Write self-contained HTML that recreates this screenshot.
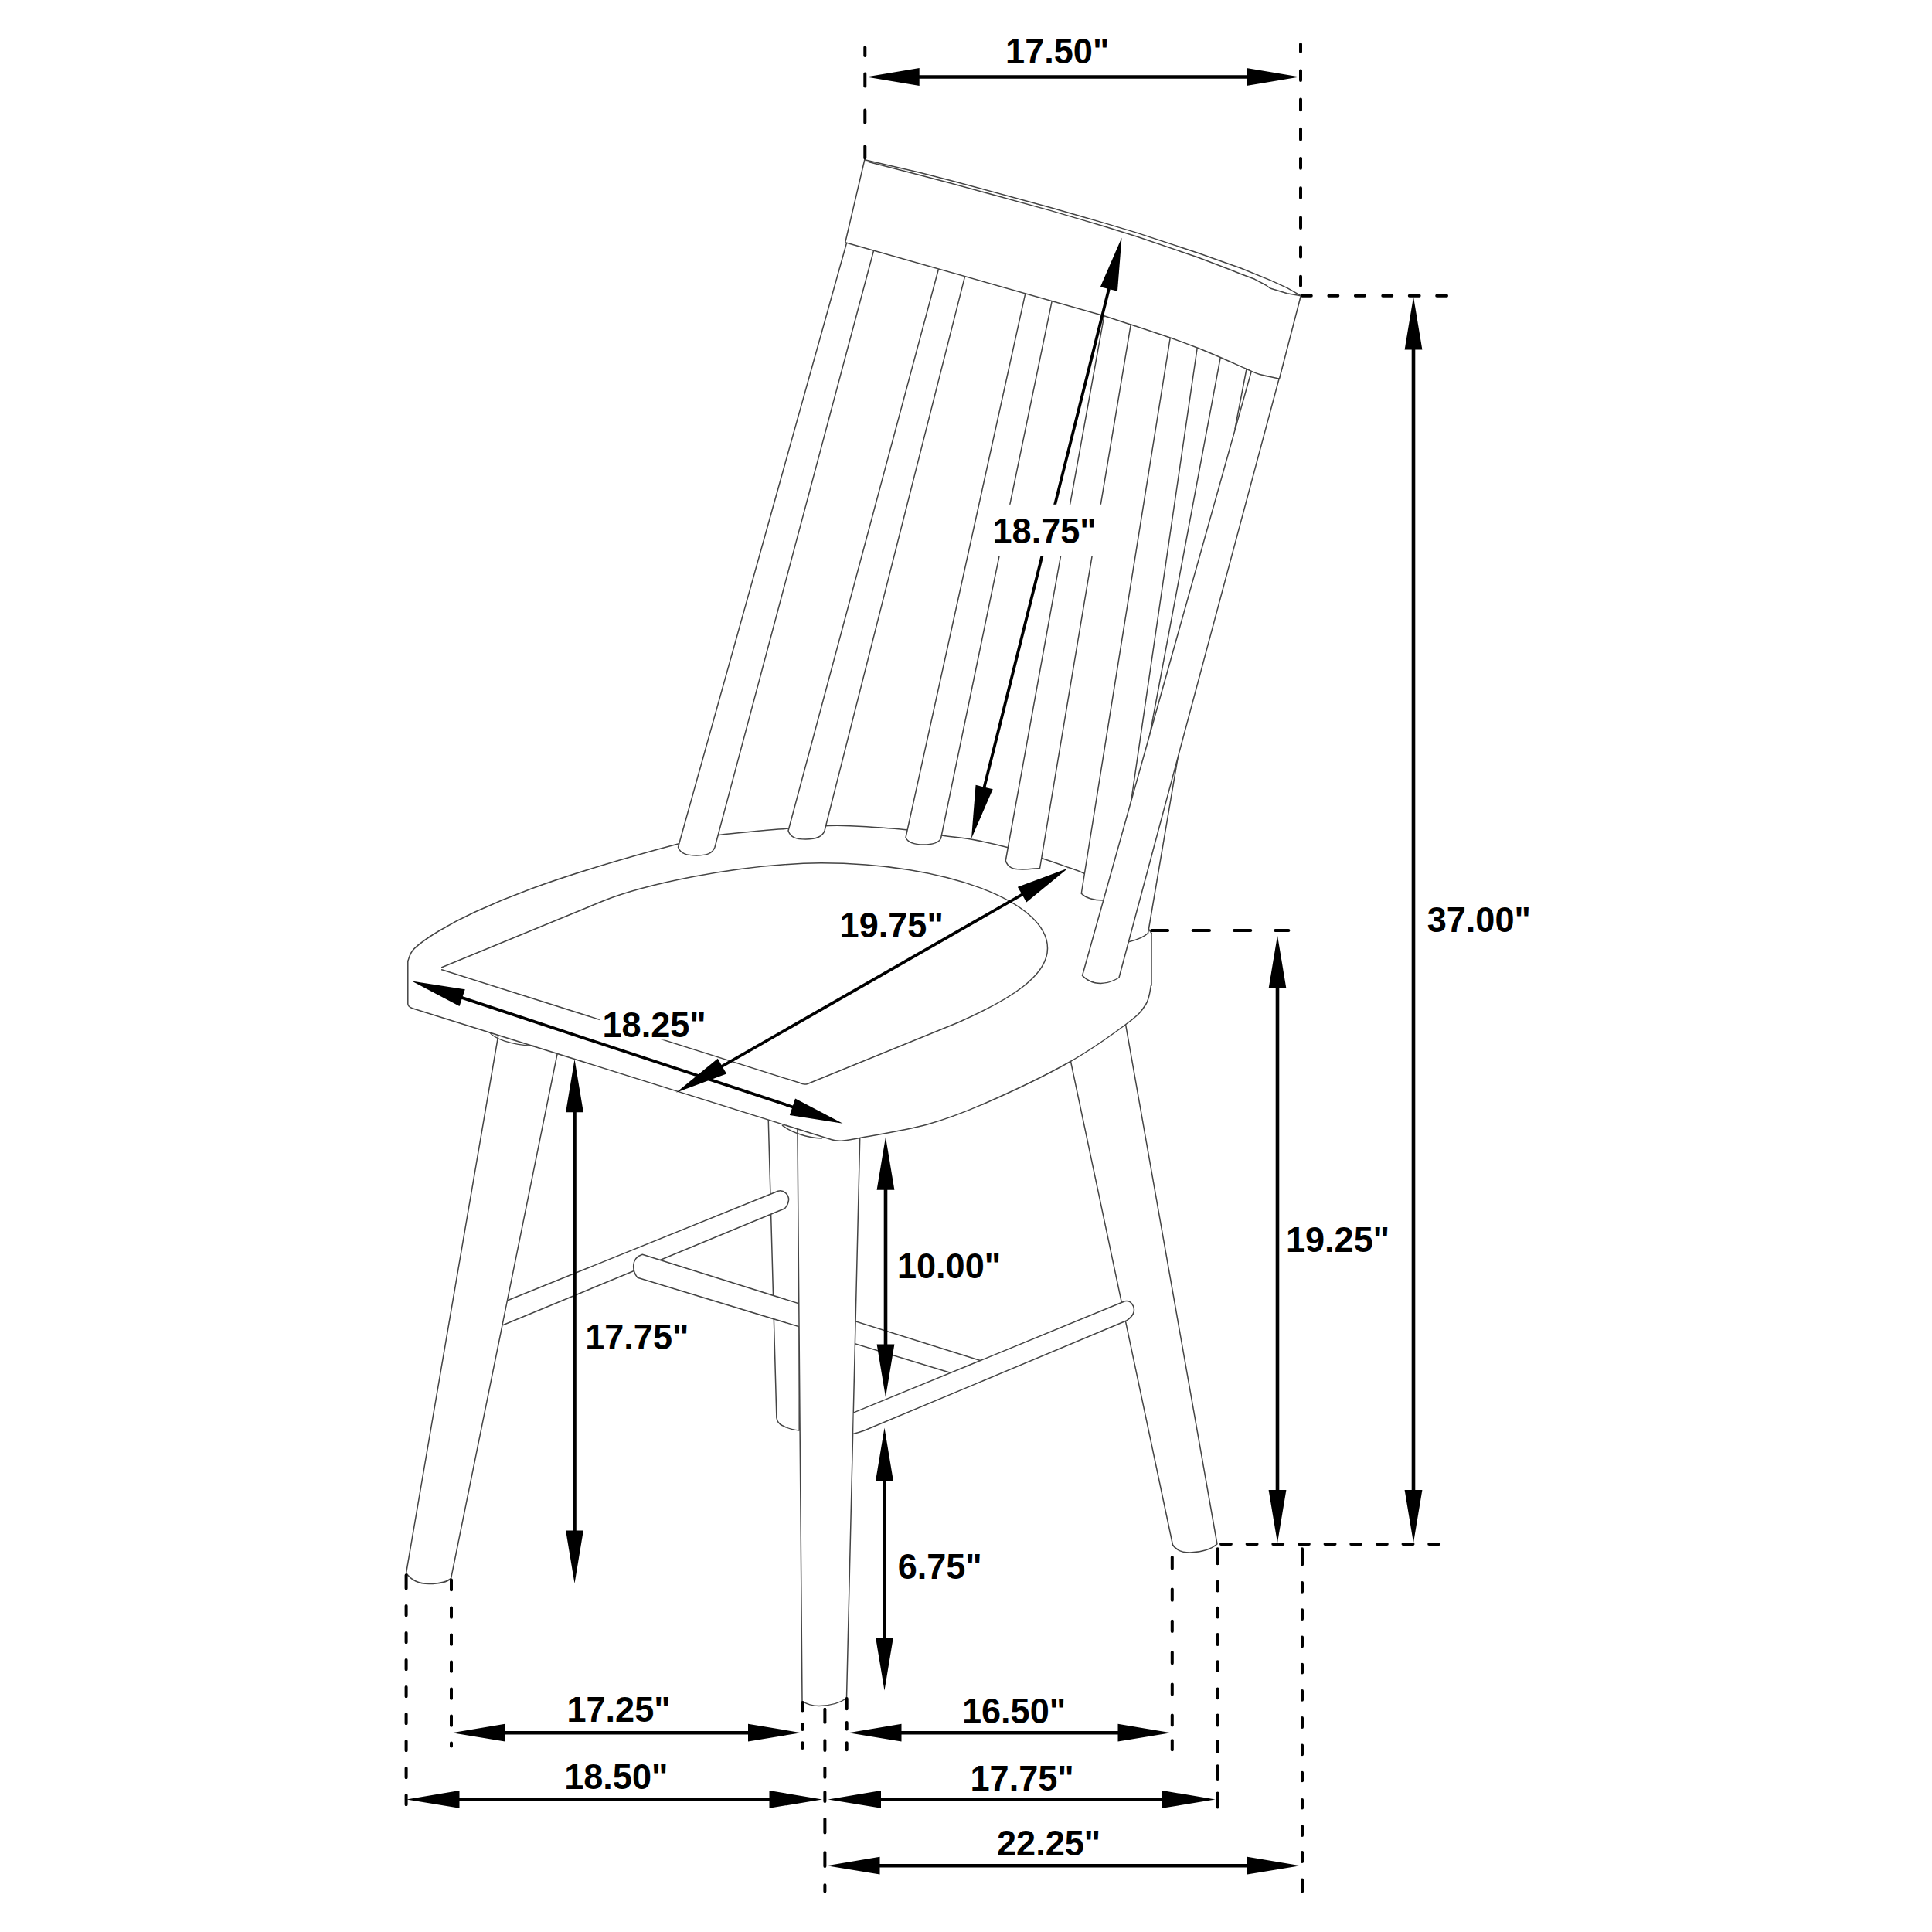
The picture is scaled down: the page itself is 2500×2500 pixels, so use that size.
<!DOCTYPE html><html><head><meta charset="utf-8"><title>Chair dimensions</title><style>html,body{margin:0;padding:0;background:#fff;width:2500px;height:2500px;overflow:hidden}svg{display:block}text{font-family:"Liberation Sans",sans-serif;font-weight:bold;font-size:46px}</style></head><body>
<svg xmlns="http://www.w3.org/2000/svg" width="2500" height="2500" viewBox="0 0 2500 2500">
<rect width="2500" height="2500" fill="#fff"/>
<g fill="none" stroke="#444" stroke-linejoin="round" stroke-linecap="round">
<path d="M655,1280 L525.6,2035.5 C533,2046 545,2049.5 555,2049.5 C570,2049.5 580,2046 583.6,2042.4 L734,1300" stroke-width="1.5" fill="#fff"/>
<path d="M994,1440 L1004.9,1834.7 Q1006,1842 1012.4,1844.7 Q1022,1850 1034.2,1850.9 L1034,1440" stroke-width="1.5" fill="#fff"/>
<path d="M1370,1300 L1517.5,1999 C1522,2006 1530,2009 1540,2009 C1555,2008.5 1568,2004 1575,1998 L1445,1260" stroke-width="1.5" fill="#fff"/>
<path d="M657.5,1682.5 L1006.75,1541.25 C1014,1539 1021,1546 1020.5,1553 C1020,1559 1017,1562 1015.5,1563.75 L651.25,1714.5" stroke-width="1.5" fill="#fff"/>
<path d="M1270,1761.03 L831.25,1623.25 C816,1628 818,1645 825,1653.22 L1232,1776.95" stroke-width="1.5" fill="#fff"/>
<path d="M1031.75,1440 L1038,2201.25 C1045,2206 1052,2207.5 1060,2207.5 C1075,2207 1088,2203 1095.5,2197.5 L1113.5,1440" stroke-width="1.5" fill="#fff"/>
<path d="M1104.7,1827.9 L1455.5,1683.75 C1463,1682 1469,1690 1467,1698 C1466,1703 1462,1706 1457.5,1709 L1118,1851.25 Q1110,1854 1104.7,1855.3" stroke-width="1.5" fill="#fff"/>
<path d="M527.8,1243.6 C529.2,1240.9 529.6,1233.83 536.2,1227.4 C542.8,1220.97 554.3,1212.9 567.4,1205 C580.5,1197.1 594.78,1189.17 614.8,1180 C634.82,1170.83 660.8,1159.83 687.5,1150 C714.2,1140.17 743.33,1130.67 775,1121 C806.67,1111.33 852.5,1098.62 877.5,1092 C902.5,1085.38 901.25,1084.58 925,1081.25 C948.75,1077.92 996.25,1074.08 1020,1072 C1043.75,1069.92 1054.17,1069.29 1067.5,1068.75 C1080.83,1068.21 1082.5,1067.92 1100,1068.75 C1117.5,1069.58 1152.5,1071.67 1172.5,1073.75 C1192.5,1075.83 1205.83,1079.17 1220,1081.25 C1234.17,1083.33 1243.75,1083.75 1257.5,1086.25 C1271.25,1088.75 1287.08,1092.08 1302.5,1096.25 C1317.92,1100.42 1336.67,1106.88 1350,1111.25 C1363.33,1115.62 1373.75,1119.38 1382.5,1122.5 C1391.25,1125.62 1392.92,1125.42 1402.5,1130 C1412.08,1134.58 1428.75,1141.67 1440,1150 C1451.25,1158.33 1461.67,1170.42 1470,1180 C1478.33,1189.58 1486.67,1202.92 1490,1207.5 L1490,1275 C1488.33,1279.17 1487.83,1291.67 1482.5,1300 C1477.17,1308.33 1474.17,1312.5 1457.5,1325 C1440.83,1337.5 1412.92,1357.92 1382.5,1375 C1352.08,1392.08 1305.42,1414.17 1275,1427.5 C1244.58,1440.83 1227.08,1447.5 1200,1455 C1172.92,1462.5 1131.17,1468.95 1112.5,1472.5 C1093.83,1476.05 1092.08,1475.67 1088,1476.3 L1075.5,1474.5 L533.7,1304.7 L527.8,1299 Z" stroke-width="0" fill="#fff" stroke="none"/>
<path d="M527.8,1243.6 C529.2,1240.9 529.6,1233.83 536.2,1227.4 C542.8,1220.97 554.3,1212.9 567.4,1205 C580.5,1197.1 594.78,1189.17 614.8,1180 C634.82,1170.83 660.8,1159.83 687.5,1150 C714.2,1140.17 743.33,1130.67 775,1121 C806.67,1111.33 852.5,1098.62 877.5,1092 C902.5,1085.38 901.25,1084.58 925,1081.25 C948.75,1077.92 996.25,1074.08 1020,1072 C1043.75,1069.92 1054.17,1069.29 1067.5,1068.75 C1080.83,1068.21 1082.5,1067.92 1100,1068.75 C1117.5,1069.58 1152.5,1071.67 1172.5,1073.75 C1192.5,1075.83 1205.83,1079.17 1220,1081.25 C1234.17,1083.33 1243.75,1083.75 1257.5,1086.25 C1271.25,1088.75 1287.08,1092.08 1302.5,1096.25 C1317.92,1100.42 1336.67,1106.88 1350,1111.25 C1363.33,1115.62 1373.75,1119.38 1382.5,1122.5 C1391.25,1125.62 1392.92,1125.42 1402.5,1130 C1412.08,1134.58 1428.75,1141.67 1440,1150 C1451.25,1158.33 1461.67,1170.42 1470,1180 C1478.33,1189.58 1486.67,1202.92 1490,1207.5" stroke-width="1.5" fill="none"/>
<line x1="1490" y1="1207.5" x2="1490" y2="1275" stroke-width="1.5"/>
<path d="M527.8,1243.6 L527.8,1299 Q528,1303 533.7,1304.7 L1075.5,1474.5 Q1081,1476.5 1088,1476.3 C1092.08,1475.67 1093.83,1476.05 1112.5,1472.5 C1131.17,1468.95 1172.92,1462.5 1200,1455 C1227.08,1447.5 1244.58,1440.83 1275,1427.5 C1305.42,1414.17 1352.08,1392.08 1382.5,1375 C1412.92,1357.92 1440.83,1337.5 1457.5,1325 C1474.17,1312.5 1477.17,1308.33 1482.5,1300 C1487.83,1291.67 1488.33,1279.17 1489.5,1275" stroke-width="1.5" fill="none"/>
<path d="M1012.5,1456.4 C1025,1466 1045,1472 1063.2,1473" stroke-width="1.5" fill="none"/>
<path d="M633.5,1335.9 C640,1344 660,1352 690.9,1353.4" stroke-width="1.5" fill="none"/>
<path d="M571.7,1251.7 L780,1166 C830,1146 950,1118 1062.5,1116.75 C1223,1116.75 1355.5,1166.4 1355.5,1227 C1355.5,1262 1310,1292 1240,1323 L1045,1402.5 Q1040,1404 1035,1401.3 L571.7,1254.8" stroke-width="1.5" fill="none"/>
<path d="M1526.75,965 L1485.5,1207.5 C1480,1213 1472,1216 1460.5,1218.75 L1501.75,965 Z" fill="#fff" stroke="none"/>
<path d="M1526.75,965 L1485.5,1207.5 C1480,1213 1472,1216 1460.5,1218.75" stroke-width="1.5" fill="none"/>
<line x1="1579.25" y1="462.5" x2="1488" y2="950" stroke-width="1.5"/>
<line x1="1613" y1="477.5" x2="1598" y2="555" stroke-width="1.5"/>
<path d="M1514.25,437 L1399.25,1156.25 C1405,1162 1420,1166 1440,1164 L1549.25,450 Z" fill="#fff" stroke="none"/>
<path d="M1514.25,437 L1399.25,1156.25 C1405,1162 1415,1165 1428,1165" stroke-width="1.5" fill="none"/>
<line x1="1549.25" y1="450" x2="1463" y2="1041.25" stroke-width="1.5"/>
<path d="M1625,460 L1400.5,1262.5 C1408,1270 1416,1272.5 1424.25,1272.5 C1434,1272 1442,1269 1448,1265 L1661,468" stroke-width="1.5" fill="#fff"/>
<path d="M1098.76,302.76 L877.5,1096.25 C880.5,1105 889.25,1107 901.25,1107 C913.25,1107 922,1105 925,1096.25 L1133.6,312.72" stroke-width="1.5" fill="#fff"/>
<path d="M1218.12,334.48 L1020,1075 C1023,1084 1030.5,1086 1042.5,1086 C1054.5,1086 1064,1084 1067,1075 L1252.19,343.43" stroke-width="1.5" fill="#fff"/>
<path d="M1330.01,365.08 L1172,1083.75 C1175,1091 1183,1093 1195,1093 C1207,1093 1214.5,1091 1217.5,1085 L1364.08,375.54" stroke-width="1.5" fill="#fff"/>
<path d="M1431.24,394.97 L1301.25,1113.75 C1304.25,1123 1311,1125 1323,1125 C1335,1125 1342.5,1123 1345.5,1123.75 L1465.56,406.19" stroke-width="1.5" fill="#fff"/>
<path d="M1118.75,207 L1093.75,313.75 L1428.75,408.75 C1434.5,410.62 1449,415.29 1463.25,420 C1477.5,424.71 1499.92,432 1514.25,437 C1528.58,442 1538.42,445.75 1549.25,450 C1560.08,454.25 1568.62,457.92 1579.25,462.5 C1589.88,467.08 1604.54,473.83 1613,477.5 C1621.46,481.17 1622.92,482.42 1630,484.5 C1637.08,486.58 1651.25,489.08 1655.5,490 L1683.3,382.7 L1665.7,372.6 L1645,363.1 L1605,346.8 L1590,341.5 L1550,327.2 L1470,300.9 L1430,288.9 L1400,280.3 L1360,268.7 L1230,233.4 L1190,223.3 L1118.8,206.7 Z" fill="#fff" stroke="none"/>
<path d="M1118.75,207 L1093.75,313.75 L1428.75,408.75 C1434.5,410.62 1449,415.29 1463.25,420 C1477.5,424.71 1499.92,432 1514.25,437 C1528.58,442 1538.42,445.75 1549.25,450 C1560.08,454.25 1568.62,457.92 1579.25,462.5 C1589.88,467.08 1604.54,473.83 1613,477.5 C1621.46,481.17 1622.92,482.42 1630,484.5 C1637.08,486.58 1651.25,489.08 1655.5,490 L1683.3,382.7" stroke-width="1.5" fill="none"/>
<path d="M1118.8,206.7 L1190,223.3 L1230,233.4 L1360,268.7 L1400,280.3 L1430,288.9 L1470,300.9 L1550,327.2 L1590,341.5 L1605,346.8 L1645,363.1 L1665.7,372.6 L1683.3,382.7" stroke-width="1.5" fill="none"/>
<path d="M1124,209.5 L1190,226.6 L1230,236.9 L1360,272.6 L1400,284.4 L1430,293.3 L1470,305.7 L1550,333 L1590,348.2 L1605,354.3 L1623.6,361.3 L1638.1,369 L1643.5,373 L1665.7,379.8 L1683.3,382.7" stroke-width="1.5" fill="none"/>
</g>
<g fill="none" stroke="#000">
<line x1="1186.7" y1="99.5" x2="1616" y2="99.5" stroke-width="4.6" stroke-linecap="butt"/>
<polygon points="1121.2,99.5 1189.7,88.1 1189.7,110.9" fill="#000" stroke="none"/>
<polygon points="1681.5,99.5 1613,110.9 1613,88.1" fill="#000" stroke="none"/>
<line x1="1435.6" y1="371.04" x2="1272.9" y2="1021.46" stroke-width="3.8" stroke-linecap="butt"/>
<polygon points="1451.5,307.5 1445.94,376.72 1423.82,371.19" fill="#000" stroke="none"/>
<polygon points="1257,1085 1262.56,1015.78 1284.68,1021.31" fill="#000" stroke="none"/>
<line x1="1829" y1="449.5" x2="1829" y2="1931" stroke-width="4.6" stroke-linecap="butt"/>
<polygon points="1829,384 1840.4,452.5 1817.6,452.5" fill="#000" stroke="none"/>
<polygon points="1829,1996.5 1817.6,1928 1840.4,1928" fill="#000" stroke="none"/>
<line x1="1325.16" y1="1156.04" x2="931.84" y2="1381.21" stroke-width="3.8" stroke-linecap="butt"/>
<polygon points="1382,1123.5 1328.22,1167.43 1316.89,1147.64" fill="#000" stroke="none"/>
<polygon points="875,1413.75 928.78,1369.82 940.11,1389.61" fill="#000" stroke="none"/>
<line x1="595.29" y1="1290.15" x2="1028.31" y2="1433.2" stroke-width="3.8" stroke-linecap="butt"/>
<polygon points="533.1,1269.6 601.72,1280.26 594.57,1301.91" fill="#000" stroke="none"/>
<polygon points="1090.5,1453.75 1021.88,1443.09 1029.03,1421.44" fill="#000" stroke="none"/>
<line x1="743.5" y1="1436.3" x2="743.5" y2="1983.5" stroke-width="4.6" stroke-linecap="butt"/>
<polygon points="743.5,1370.8 754.9,1439.3 732.1,1439.3" fill="#000" stroke="none"/>
<polygon points="743.5,2049 732.1,1980.5 754.9,1980.5" fill="#000" stroke="none"/>
<line x1="1653" y1="1276" x2="1653" y2="1931" stroke-width="4.6" stroke-linecap="butt"/>
<polygon points="1653,1210.5 1664.4,1279 1641.6,1279" fill="#000" stroke="none"/>
<polygon points="1653,1996.5 1641.6,1928 1664.4,1928" fill="#000" stroke="none"/>
<line x1="1146" y1="1536.75" x2="1146" y2="1742.5" stroke-width="4.6" stroke-linecap="butt"/>
<polygon points="1146,1471.25 1157.4,1539.75 1134.6,1539.75" fill="#000" stroke="none"/>
<polygon points="1146,1808 1134.6,1739.5 1157.4,1739.5" fill="#000" stroke="none"/>
<line x1="1144.5" y1="1913" x2="1144.5" y2="2122" stroke-width="4.6" stroke-linecap="butt"/>
<polygon points="1144.5,1847.5 1155.9,1916 1133.1,1916" fill="#000" stroke="none"/>
<polygon points="1144.5,2187.5 1133.1,2119 1155.9,2119" fill="#000" stroke="none"/>
<line x1="650.5" y1="2242.2" x2="971" y2="2242.2" stroke-width="4.6" stroke-linecap="butt"/>
<polygon points="585,2242.2 653.5,2230.8 653.5,2253.6" fill="#000" stroke="none"/>
<polygon points="1036.5,2242.2 968,2253.6 968,2230.8" fill="#000" stroke="none"/>
<line x1="1163.5" y1="2242.2" x2="1449.5" y2="2242.2" stroke-width="4.6" stroke-linecap="butt"/>
<polygon points="1098,2242.2 1166.5,2230.8 1166.5,2253.6" fill="#000" stroke="none"/>
<polygon points="1515,2242.2 1446.5,2253.6 1446.5,2230.8" fill="#000" stroke="none"/>
<line x1="591.5" y1="2328.4" x2="998.5" y2="2328.4" stroke-width="4.6" stroke-linecap="butt"/>
<polygon points="526,2328.4 594.5,2317 594.5,2339.8" fill="#000" stroke="none"/>
<polygon points="1064,2328.4 995.5,2339.8 995.5,2317" fill="#000" stroke="none"/>
<line x1="1137" y1="2328.4" x2="1507" y2="2328.4" stroke-width="4.6" stroke-linecap="butt"/>
<polygon points="1071.5,2328.4 1140,2317 1140,2339.8" fill="#000" stroke="none"/>
<polygon points="1572.5,2328.4 1504,2339.8 1504,2317" fill="#000" stroke="none"/>
<line x1="1135.5" y1="2414.2" x2="1617" y2="2414.2" stroke-width="4.6" stroke-linecap="butt"/>
<polygon points="1070,2414.2 1138.5,2402.8 1138.5,2425.6" fill="#000" stroke="none"/>
<polygon points="1682.5,2414.2 1614,2425.6 1614,2402.8" fill="#000" stroke="none"/>
<path d="M1119.3,61.3V71.9M1119.3,95.6V111.6M1119.3,142.4V158.7M1119.3,189.2V204.5" stroke-width="4.0" stroke-linecap="round"/>
<path d="M1683,56.9V66.9M1683,91.4V104.1M1683,128.6V142.3M1683,166.8V180.5M1683,205V217.8M1683,243.2V256M1683,281.4V295.1M1683,319.6V332.4M1683,357.8V369.7" stroke-width="4.0" stroke-linecap="round"/>
<path d="M1685,382.7H1696.8M1719.4,382.7H1731.3M1753.9,382.7H1765.8M1789.3,382.7H1801.2M1823.8,382.7H1836.6M1859.2,382.7H1872" stroke-width="4.0" stroke-linecap="round"/>
<path d="M1490.3,1204H1511.1M1543.6,1204H1565M1596.9,1204H1618.3M1650.2,1204H1667.4" stroke-width="4.0" stroke-linecap="round"/>
<path d="M1580,1998H1592.9M1613.65,1998H1626.55M1647.3,1998H1660.2M1680.95,1998H1693.85M1714.6,1998H1727.5M1748.25,1998H1761.15M1781.9,1998H1794.8M1815.55,1998H1828.45M1849.2,1998H1862.1" stroke-width="4.0" stroke-linecap="round"/>
<path d="M525.6,2038.2V2055.4M525.6,2078V2090.3M525.6,2113V2125.3M525.6,2148V2160.3M525.6,2183V2195.3M525.6,2218V2230.3M525.6,2253V2265.3M525.6,2288V2300.3M525.6,2323V2335.3" stroke-width="4.0" stroke-linecap="round"/>
<path d="M584,2044.4V2057.2M584,2080.6V2092.8M584,2115.6V2127.8M584,2150.6V2162.8M584,2185.6V2197.8M584,2220.6V2232.8M584,2255.6V2259.5" stroke-width="4.0" stroke-linecap="round"/>
<path d="M1038.4,2203V2213.5M1038.4,2231.3V2238.1M1038.4,2255.2V2262.1" stroke-width="4.0" stroke-linecap="round"/>
<path d="M1067.4,2211.7V2228.7M1067.4,2252.3V2265M1067.4,2287.8V2299.7M1067.4,2319V2330.9M1067.4,2353.7V2371.5M1067.4,2397.2V2415M1067.4,2439.2V2447.6" stroke-width="4.0" stroke-linecap="round"/>
<path d="M1095.7,2198V2211.3M1095.7,2229.1V2237.4M1095.7,2255.2V2264.2" stroke-width="4.0" stroke-linecap="round"/>
<path d="M1516.8,2015.1V2029.4M1516.8,2056.5V2070.7M1516.8,2097.8V2110.9M1516.8,2138V2152.2M1516.8,2179.4V2192.4M1516.8,2219.5V2232.5M1516.8,2252.3V2264.2" stroke-width="4.0" stroke-linecap="round"/>
<path d="M1575.6,2004.2V2023.3M1575.6,2046.7V2058.6M1575.6,2080.8V2092.6M1575.6,2114.9V2127.9M1575.6,2150.2V2162M1575.6,2185.4V2197.2M1575.6,2219.5V2232.5M1575.6,2253.6V2266.6M1575.6,2285.2V2301.9M1575.6,2320.5V2338.4" stroke-width="4.0" stroke-linecap="round"/>
<path d="M1685,2004.2V2024.5M1685,2048V2059.8M1685,2083.2V2095M1685,2118.5V2130.3M1685,2153.8V2164.4M1685,2187.9V2199.7M1685,2223.1V2235M1685,2258.4V2270.2M1685,2293.7V2304.3M1685,2329V2339.6M1685,2363V2374.9M1685,2397.1V2408.9M1685,2432.4V2447.8" stroke-width="4.0" stroke-linecap="round"/>
<rect x="1279" y="652.8" width="148" height="66.7" fill="#fff" stroke="none"/>
<rect x="775.8" y="1305" width="142.2" height="40.5" fill="#fff" stroke="none"/>
</g>
<text transform="translate(1368.2,82.3) scale(0.98,1.0)" text-anchor="middle" fill="#000" stroke="none">17.50"</text>
<text transform="translate(1351.6,703.4) scale(0.98,1.0)" text-anchor="middle" fill="#000" stroke="none">18.75"</text>
<text transform="translate(1913.8,1205.8) scale(0.98,1.0)" text-anchor="middle" fill="#000" stroke="none">37.00"</text>
<text transform="translate(1153.7,1213) scale(0.98,1.0)" text-anchor="middle" fill="#000" stroke="none">19.75"</text>
<text transform="translate(846.6,1341.8) scale(0.98,1.0)" text-anchor="middle" fill="#000" stroke="none">18.25"</text>
<text transform="translate(1731,1619.8) scale(0.98,1.0)" text-anchor="middle" fill="#000" stroke="none">19.25"</text>
<text transform="translate(1228,1654.2) scale(0.98,1.0)" text-anchor="middle" fill="#000" stroke="none">10.00"</text>
<text transform="translate(824.3,1746.4) scale(0.98,1.0)" text-anchor="middle" fill="#000" stroke="none">17.75"</text>
<text transform="translate(1216.2,2043) scale(0.98,1.0)" text-anchor="middle" fill="#000" stroke="none">6.75"</text>
<text transform="translate(800.5,2228) scale(0.98,1.0)" text-anchor="middle" fill="#000" stroke="none">17.25"</text>
<text transform="translate(1312,2229.8) scale(0.98,1.0)" text-anchor="middle" fill="#000" stroke="none">16.50"</text>
<text transform="translate(797.3,2314.8) scale(0.98,1.0)" text-anchor="middle" fill="#000" stroke="none">18.50"</text>
<text transform="translate(1322.6,2316.6) scale(0.98,1.0)" text-anchor="middle" fill="#000" stroke="none">17.75"</text>
<text transform="translate(1357.1,2401.4) scale(0.98,1.0)" text-anchor="middle" fill="#000" stroke="none">22.25"</text>
</svg></body></html>
